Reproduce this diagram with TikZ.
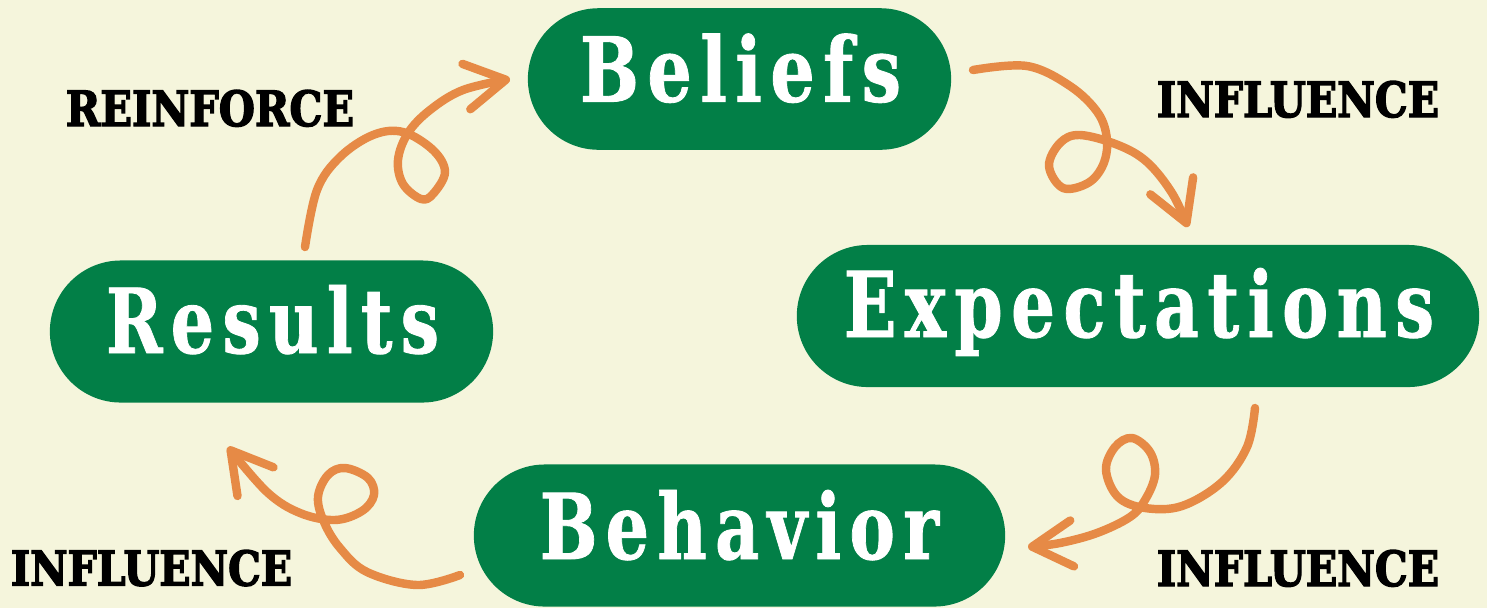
\documentclass[tikz,border=0pt]{standalone}
\usepackage{fontspec}
\setmainfont{DejaVu Serif}
\newfontfamily\pillfont[LetterSpace=12,FakeBold=1]{DejaVu Serif}
\newfontfamily\verbfont[FakeBold=3]{DejaVu Serif}
\usetikzlibrary{arrows.meta,shapes.misc}
\definecolor{paper}{RGB}{245,245,220}
\definecolor{leaf}{RGB}{2,127,71}
\definecolor{rust}{RGB}{230,138,70}
\tikzset{
  pill/.style={rounded rectangle, fill=leaf, inner sep=0pt},
  word/.style={anchor=base, text=white, inner sep=0pt, font=\pillfont\bfseries},
  verb/.style={anchor=base, text=black, inner sep=0pt, font=\verbfont\bfseries},
  swirl/.style={rust, line width=2.4pt, line cap=round, line join=round,
    -{Straight Barb[length=4mm,width=4.6mm,round]}}
}

\begin{document}
\begin{tikzpicture}[x=0.01cm,y=-0.01cm]
\fill[paper] (0,0) rectangle (1487,608);
% the four stages
\node [pill, minimum width=4.23cm, minimum height=1.415cm] (beliefs) at (739.5,79) {};
\node [pill, minimum width=6.82cm, minimum height=1.42cm] (expectations) at (1138,316) {};
\node [pill, minimum width=4.43cm, minimum height=1.42cm] (results) at (271.5,331.5) {};
\node [pill, minimum width=5.31cm, minimum height=1.42cm] (behavior) at (739.5,535.5) {};
\node [word] (beliefs-txt) at (740.5,101.6) {\resizebox{3.21cm}{0.68cm}{Beliefs}};
\node [word] (expectations-txt) at (1139,337) {\resizebox{5.9cm}{0.69cm}{Expectations}};
\node [word] (results-txt) at (272.5,353) {\resizebox{3.33cm}{0.68cm}{Results}};
\node [word] (behavior-txt) at (739.5,559) {\resizebox{3.99cm}{0.69cm}{Behavior}};
% what links them
\node [verb] (reinforce) at (210,126) {\resizebox{2.88cm}{0.36cm}{REINFORCE}};
\node [verb] (influence-a) at (1298,117) {\resizebox{2.82cm}{0.36cm}{INFLUENCE}};
\node [verb] (influence-b) at (1298,586) {\resizebox{2.82cm}{0.36cm}{INFLUENCE}};
\node [verb] (influence-c) at (151.5,585.5) {\resizebox{2.81cm}{0.355cm}{INFLUENCE}};
% swirly arrows
\coordinate (rein-s) at (305,247);
\coordinate (rein-e) at (510,79);
\coordinate (infa-s) at (973,70);
\coordinate (infa-e) at (1188,227);
\coordinate (infb-s) at (1255,408);
\coordinate (infb-e) at (1028,547);
\coordinate (infc-s) at (460,575);
\coordinate (infc-e) at (228,447);
\draw [swirl] plot [smooth, tension=0.6] coordinates {(rein-s) (317,190) (340,157) (373,135)
  (403,132) (433,150) (445,172) (433,194) (421,199) (403,184) (398,160) (408,133)
  (430,110) (463,90) (rein-e)};
\draw [swirl] plot [smooth, tension=0.6] coordinates {(infa-s) (1027,66) (1070,86) (1098,113)
  (1107,140) (1103,165) (1088,183) (1063,188) (1049,166) (1060,143) (1080,135)
  (1118,145) (1147,162) (1172,193) (infa-e)};
\draw [swirl] plot [smooth, tension=0.6] coordinates {(infb-s) (1247,447) (1222,482) (1182,506)
  (1145,508) (1118,497) (1106,470) (1115,447) (1132,438) (1150,452) (1155,475)
  (1145,500) (1130,517) (1097,533) (1060,543) (infb-e)};
\draw [swirl] plot [smooth, tension=0.6] coordinates {(infc-s) (417,585) (367,572) (340,548)
  (324,522) (318,497) (328,475) (345,468) (368,478) (374,495) (362,511) (335,520)
  (300,513) (267,492) (infc-e)};
\end{tikzpicture}
\end{document}
